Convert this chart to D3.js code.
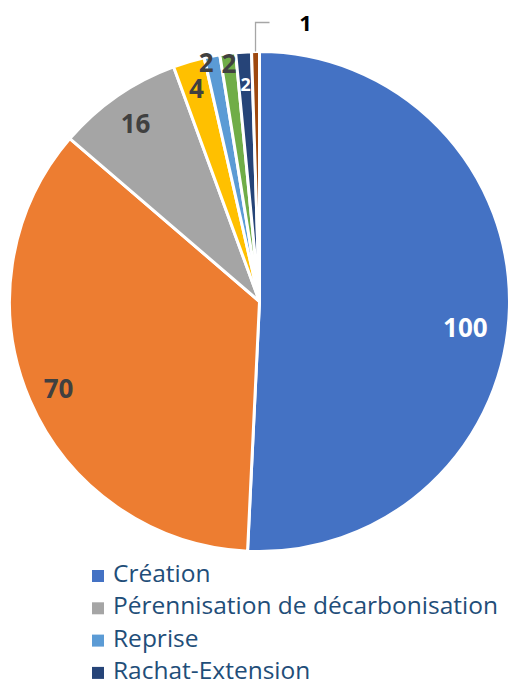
<!DOCTYPE html>
<html><head><meta charset="utf-8">
<script src="https://cdn.jsdelivr.net/npm/d3@7"></script>
<style>body{margin:0;background:#fff}svg{display:block}</style>
</head><body>
<script>
const categories = ["Création","Type 2","Pérennisation de décarbonisation","Type 4","Reprise","Type 6","Rachat-Extension","Type 8"];
const values = [100,70,16,4,2,2,2,1];
const colors = ["#4472C4","#ED7D31","#A5A5A5","#FFC000","#5B9BD5","#70AD47","#264478","#9E480E"];
const legendItems = ["Création","Pérennisation de décarbonisation","Reprise","Rachat-Extension"];

const W=511,H=686, cx=259.5, cy=301.5, R=250;
const svg=d3.select("body").append("svg").attr("width",W).attr("height",H);
const g=svg.append("g").attr("transform",`translate(${cx},${cy})`);
const pie=d3.pie().sort(null).value(d=>d)(values);
const arc=d3.arc().innerRadius(0).outerRadius(R);
g.selectAll("path").data(pie).join("path").attr("d",arc)
 .attr("fill",(d,i)=>colors[i]).attr("stroke","#fff").attr("stroke-width",3).attr("stroke-linejoin","round");

// label layout (radius fraction, x nudge, font size, colour) per slice
const lab=[{f:0.83,dx:0,s:26,c:"#fff"},{f:0.875,dx:0,s:26,c:"#404040"},{f:0.87,dx:0,s:26,c:"#404040"},{f:0.89,dx:0,s:26,c:"#404040"},
 {f:0.975,dx:-7,s:26,c:"#404040"},{f:0.96,dx:0,s:26,c:"#404040"},{f:0.87,dx:0,s:18,c:"#fff"},{f:1.12,dx:0,s:22,c:"#000"}];
pie.forEach((d,i)=>{
  let a=(d.startAngle+d.endAngle)/2, r=R*lab[i].f;
  if(i===0) a+=0.1;
  let x=r*Math.sin(a)+lab[i].dx, y=-r*Math.cos(a);
  if(i===7){x=46;y=-280;}
  g.append("text").attr("x",x).attr("y",y).attr("text-anchor","middle").attr("dominant-baseline","central")
   .attr("font-family","'Open Sans',sans-serif").attr("font-weight","bold").attr("font-size",lab[i].s)
   .attr("fill",lab[i].c).text(values[i]);
});
// leader line for smallest slice
const s7=pie[7], a7=(s7.startAngle+s7.endAngle)/2;
g.append("path").attr("d",`M${R*Math.sin(a7)},${-R*Math.cos(a7)}V${-279}H${10}`)
 .attr("fill","none").attr("stroke","#a6a6a6").attr("stroke-width",1.3);

// legend
const lg=svg.append("g");
legendItems.forEach((t,k)=>{
  const i=categories.indexOf(t), y=582+k*32.3;
  lg.append("rect").attr("x",92).attr("y",y-12).attr("width",12).attr("height",12).attr("fill",colors[i]);
  lg.append("text").attr("x",113).attr("y",y)
   .attr("font-family","'Open Sans',sans-serif").attr("font-size",24.5).attr("fill","#1F4E79").text(t);
});
</script>
</body></html>
